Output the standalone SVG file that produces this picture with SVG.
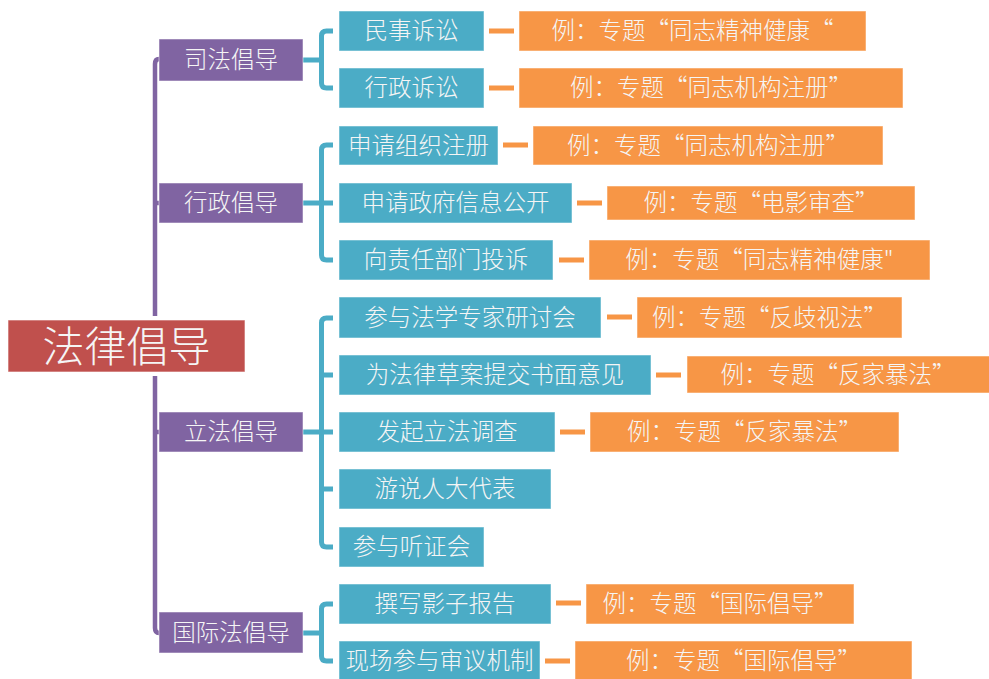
<svg xmlns="http://www.w3.org/2000/svg" width="989" height="679" viewBox="0 0 989 679">
<style>
text{font-family:"Noto Sans CJK SC","Noto Sans",sans-serif;fill:#F5F5F5;text-anchor:middle;dominant-baseline:central;font-weight:300}
.t{font-size:23.5px}
.root rect{fill:#C0504D;stroke:#fff;stroke-opacity:0.6;stroke-width:1}
.l1 rect{fill:#8064A2;stroke:#fff;stroke-opacity:0.5;stroke-width:1}
.l2 rect{fill:#4BACC6;stroke:#fff;stroke-opacity:0.5;stroke-width:1}
.ex rect{fill:#F79646;stroke:#fff;stroke-opacity:0.5;stroke-width:1}
.cp{fill:none;stroke:#8064A2;stroke-width:4.5}
.cb{fill:none;stroke:#4BACC6;stroke-width:5}
.co{fill:none;stroke:#F79646;stroke-width:5}
</style>
<rect width="989" height="679" fill="#fff"/>
<g id="connectors">
<path class="cp" d="M159,59 Q155,59 155,64 V628 Q155,633 159,633 M155,203 H159 M155,432 H159"/>
<path class="cb" d="M333,31 H326.5 Q321.5,31 321.5,36 V83 Q321.5,88 326.5,88 H333 M303,60 H321.5"/>
<path class="cb" d="M333,145 H326.5 Q321.5,145 321.5,150 V255 Q321.5,260 326.5,260 H333 M303,203 H333"/>
<path class="cb" d="M333,318 H326.5 Q321.5,318 321.5,323 V542 Q321.5,547 326.5,547 H333 M303,432 H333 M321.5,375 H333 M321.5,489 H333"/>
<path class="cb" d="M333,604 H326.5 Q321.5,604 321.5,609 V656 Q321.5,661 326.5,661 H333 M303,633 H321.5"/>
<path class="co" d="M489,31 H514 M489,88 H514 M503,145 H528 M577,203 H602 M559,260 H584 M607,317 H632 M656,375 H681 M560,432 H585 M556,603 H581 M545,661 H570"/>
</g>
<g id="root" class="root"><rect x="3" y="316" width="246" height="60" style="fill:#fff;stroke:none"/><rect x="8" y="320" width="237" height="52"/><text x="126.5" y="343" style="font-size:42px">法律倡导</text></g>
<g id="n-sifa" class="l1"><rect x="159" y="39" width="144" height="42"/><text class="t" x="231" y="58">司法倡导</text></g>
<g id="n-xingzheng" class="l1"><rect x="159" y="183" width="144" height="40"/><text class="t" x="231" y="201">行政倡导</text></g>
<g id="n-lifa" class="l1"><rect x="159" y="412" width="144" height="40"/><text class="t" x="231" y="430">立法倡导</text></g>
<g id="n-guoji" class="l1"><rect x="159" y="612" width="144" height="41"/><text class="t" x="231" y="630.5">国际法倡导</text></g>
<g id="b1" class="l2"><rect x="339" y="11" width="145" height="40"/><text class="t" x="411.5" y="29">民事诉讼</text></g>
<g id="b2" class="l2"><rect x="339" y="68" width="145" height="40"/><text class="t" x="411.5" y="86">行政诉讼</text></g>
<g id="b3" class="l2"><rect x="339" y="126" width="159" height="39"/><text class="t" x="418.5" y="143.5">申请组织注册</text></g>
<g id="b4" class="l2"><rect x="339" y="183" width="233" height="40"/><text class="t" x="455.5" y="201">申请政府信息公开</text></g>
<g id="b5" class="l2"><rect x="339" y="240" width="214" height="40"/><text class="t" x="446" y="258">向责任部门投诉</text></g>
<g id="b6" class="l2"><rect x="339" y="297" width="262" height="41"/><text class="t" x="470" y="315.5">参与法学专家研讨会</text></g>
<g id="b7" class="l2"><rect x="339" y="355" width="312" height="40"/><text class="t" x="495" y="373">为法律草案提交书面意见</text></g>
<g id="b8" class="l2"><rect x="339" y="412" width="216" height="40"/><text class="t" x="447" y="430">发起立法调查</text></g>
<g id="b9" class="l2"><rect x="339" y="469" width="212" height="40"/><text class="t" x="445" y="487">游说人大代表</text></g>
<g id="b10" class="l2"><rect x="339" y="527" width="145" height="40"/><text class="t" x="411.5" y="545">参与听证会</text></g>
<g id="b11" class="l2"><rect x="339" y="584" width="212" height="40"/><text class="t" x="445" y="602">撰写影子报告</text></g>
<g id="b12" class="l2"><rect x="339" y="641" width="201" height="40"/><text class="t" x="439.5" y="659">现场参与审议机制</text></g>
<g id="e1" class="ex"><rect x="519" y="11" width="347" height="40"/><text class="t" x="692.5" y="29">例：专题“同志精神健康“</text></g>
<g id="e2" class="ex"><rect x="519" y="68" width="384" height="40"/><text class="t" x="711" y="86">例：专题“同志机构注册”</text></g>
<g id="e3" class="ex"><rect x="533" y="126" width="350" height="39"/><text class="t" x="708" y="143.5">例：专题“同志机构注册”</text></g>
<g id="e4" class="ex"><rect x="607" y="186" width="308" height="34"/><text class="t" x="761" y="201">例：专题“电影审查”</text></g>
<g id="e5" class="ex"><rect x="589" y="240" width="341" height="40"/><text class="t" x="759.5" y="258">例：专题“同志精神健康"</text></g>
<g id="e6" class="ex"><rect x="637" y="297" width="265" height="41"/><text class="t" x="769.5" y="315.5">例：专题“反歧视法”</text></g>
<g id="e7" class="ex"><rect x="687" y="356" width="303" height="37"/><text class="t" x="838" y="372.5">例：专题“反家暴法”</text></g>
<g id="e8" class="ex"><rect x="590" y="412" width="309" height="40"/><text class="t" x="744.5" y="430">例：专题“反家暴法”</text></g>
<g id="e11" class="ex"><rect x="586" y="584" width="268" height="40"/><text class="t" x="720" y="602">例：专题“国际倡导”</text></g>
<g id="e12" class="ex"><rect x="575" y="641" width="337" height="40"/><text class="t" x="743.5" y="659">例：专题“国际倡导”</text></g>
</svg>
